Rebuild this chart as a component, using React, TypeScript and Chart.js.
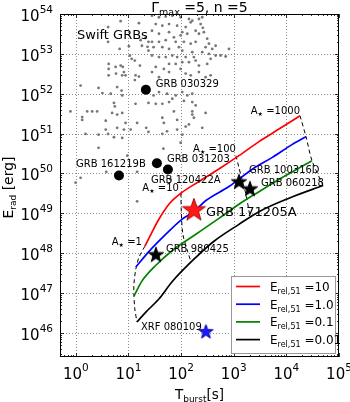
import React, { useEffect, useRef } from "react";
import { Chart, registerables } from "chart.js";

Chart.register(...registerables);

const FONT = "'DejaVu Sans', sans-serif";

// ---------------- data ----------------
// Swift GRB sample: burst duration T [s] and radiated energy E [erg]
const swiftT = [
  7.1, 15.8, 4.1, 4.1, 6.8, 10.2, 17, 21, 18, 23, 24, 24, 10.6, 11.5, 13.2, 16.5, 4.2, 4.2, 7.1, 7.8,
  5.7, 8.2, 7.6, 5.8, 8.8, 13.6, 15.8, 4.2, 13.2, 1.23, 2.7, 3.2, 4.6, 6.1, 7.4, 7.6, 5.3, 5.5, 13.6, 24,
  28, 38, 51, 68, 98, 141, 163, 218, 252,
  33, 44, 59, 84, 122, 152, 235, 259, 189, 105, 59, 38, 28,
  73, 98, 131, 218, 271, 313, 338, 453, 811, 390, 292, 189, 152, 113, 79, 51, 38, 28,
  30, 44, 59, 91, 105, 163, 252, 338, 453, 564, 702,
  28, 38, 51, 68, 84, 122, 175,
  59, 79, 105, 141, 189, 218, 313, 364,
  33, 47, 59, 98, 122, 152, 218, 292, 364,
  38, 28,
  30, 38, 54, 79, 105, 131, 163,
  44, 59, 68, 113, 163, 189, 33,
  0.79, 1.64, 2.04, 2.54, 1.32, 1.32, 4.9, 3.7, 6.1, 7.6, 8.8, 14.6, 6.1, 3.7, 4.1, 1.53, 2.7, 5.3, 7.6, 8.2,
  11, 21.7, 24, 44, 47, 73, 84, 163, 163, 122, 141, 105, 54, 84, 252, 44, 2.7, 9.5, 46, 98,
  3.8, 1.23, 0.99, 14.6, 63, 14.6, 292, 175,
];
const swiftE = [
  6.6e53, 5.9e53, 4.7e53, 2.0e53, 1.33e53, 1.56e53, 2.2e53, 2.5e53, 1.6e53, 1.5e53, 2.0e53, 1.2e53, 9.1e52, 7.5e52, 6.8e52, 5.1e52, 5.6e52, 4.2e52, 5.1e52, 4.7e52,
  4.7e52, 3.5e52, 2.9e52, 3.2e52, 2.9e52, 2.9e52, 2.7e52, 2.9e52, 2.2e52, 1.6e52, 1.4e52, 1.04e52, 1.0e52, 1.47e52, 1.2e52, 9.1e51, 5.9e51, 4.8e51, 5.6e51, 5.9e51,
  9.1e53, 8.3e53, 8.6e53, 9.1e53, 8.3e53, 7.5e53, 6.8e53, 7.5e53, 8.3e53,
  5.6e53, 5.1e53, 5.6e53, 5.1e53, 4.7e53, 6.2e53, 5.6e53, 4.5e53, 3.8e53, 3.5e53, 3.5e53, 3.2e53, 3.8e53,
  2.6e53, 2.9e53, 3.2e53, 3.2e53, 3.5e53, 2.4e53, 1.8e53, 1.6e53, 1.33e53, 1.33e53, 1.47e53, 2.0e53, 1.8e53, 2.0e53, 2.0e53, 2.2e53, 2.0e53, 2.0e53,
  1.47e53, 1.47e53, 1.33e53, 1.47e53, 1.2e53, 1.1e53, 1.1e53, 1.0e53, 9.1e52, 9.1e52, 8.6e52,
  9.1e52, 8.3e52, 8.3e52, 9.1e52, 8.3e52, 8.3e52, 8.3e52,
  5.6e52, 5.6e52, 6.2e52, 6.2e52, 6.8e52, 5.1e52, 5.6e52, 7.5e52,
  4.7e52, 4.2e52, 3.5e52, 4.2e52, 3.2e52, 2.9e52, 3.5e52, 2.6e52, 2.9e52,
  2.6e52, 3.5e52,
  9.1e51, 1.1e52, 1.0e52, 9.1e51, 1.1e52, 9.1e51, 1.0e52,
  5.6e51, 6.2e51, 7.5e51, 6.6e51, 6.2e51, 5.1e51, 5.6e51,
  3.6e51, 3.6e51, 3.6e51, 3.6e51, 2.6e51, 2.2e51, 3.3e51, 2.1e51, 3.0e51, 3.3e51, 1.85e51, 1.85e51, 1.4e51, 1.26e51, 9.8e50, 9.8e50, 9.4e50, 8.1e50, 7.8e50, 1.26e51,
  1.26e51, 1.4e51, 1.1e51, 2.5e51, 1.85e51, 3.6e51, 2.2e51, 3.6e51, 3.0e51, 1.5e51, 1.7e51, 9.4e50, 1.14e51, 1.26e51, 1.4e51, 9.8e50, 4.4e50, 2.8e50, 4.2e50, 5.9e50,
  1.1e50, 7.8e49, 5.9e49, 1.1e50, 7.1e49, 2.0e49, 3.3e51, 2.5e51,
];

// Named GRBs shown as filled circles
const circleNames = ["GRB 030329", "GRB 161219B", "GRB 031203", "GRB 120422A"];
const circleT = [21.4, 6.6, 34.7, 56.1];
const circleE = [1.26e52, 8.9e49, 1.8e50, 1.26e50];

// Named GRBs shown as stars
const starNames = ["GRB 171205A", "GRB 980425", "GRB 100316D", "GRB 060218", "XRF 080109"];
const starT = [175, 33.2, 1256, 2032, 296];
const starE = [1.26e49, 9.4e47, 6.3e49, 4.2e49, 1.1e46];

// Model curves, E_rel,51
const erelLabels = ["10", "1.0", "0.1", "0.01"];
const erel10T = [20.5, 27.9, 37.8, 58.6, 99, 218, 523, 1256, 3013, 7228, 18150];
const erel10E = [1.5e48, 3.35e48, 7.1e48, 1.7e49, 3.2e49, 6.3e49, 1.3e50, 2.8e50, 6.3e50, 1.3e51, 2.8e51];
const erel1T = [13.8, 24.4, 51.4, 103.5, 175, 296, 811, 2218, 5321, 12760, 23600];
const erel1E = [4.5e47, 1.1e48, 3.0e48, 7.1e48, 1.1e49, 2.1e49, 4.7e49, 1.26e50, 2.5e50, 5.3e50, 8.4e50];
const erel01T = [12.7, 18.0, 33.2, 73, 191, 523, 1256, 3013, 9000, 30700];
const erel01E = [8.4e46, 2.0e47, 5.0e47, 1.26e48, 3.0e48, 7.5e48, 1.7e49, 3.5e49, 8.4e49, 2.1e50];
const erel001T = [14.5, 21.4, 37.8, 66.8, 191, 421, 1256, 3013, 11200, 49700];
const erel001E = [1.9e46, 3.35e46, 7.1e46, 1.9e47, 7.9e47, 2.0e48, 5.3e48, 1.1e49, 2.4e49, 5.0e49];

// Constant A_* (dashed)
const astarLabels = ["1", "10", "100", "1000"];
const astar1T = [20.5, 15.8, 13.8, 12.7, 12.7, 13.2, 14.5];
const astar1E = [1.5e48, 7.9e47, 4.0e47, 1.7e47, 8.4e46, 4.0e46, 1.9e46];
const astar10T = [99, 101, 108, 129, 153];
const astar10E = [3.2e49, 1.0e49, 3.0e48, 1.26e48, 6.3e47];
const astar100T = [1101, 1256, 1432, 1706, 2032];
const astar100E = [2.8e50, 1.4e50, 7.1e49, 3.0e49, 8.4e48];
const astar1000T = [18150, 23600, 30700, 49700];
const astar1000E = [2.8e51, 8.4e50, 2.1e50, 5.0e49];

const xTicks = [1, 10, 100, 1e3, 1e4, 1e5];
const yTicks = [1e46, 1e47, 1e48, 1e49, 1e50, 1e51, 1e52, 1e53, 1e54];
const xRange = [0.5, 1e5];
const yRange = [2.5e45, 1e54];

// ---------------- helpers ----------------
type Part = { t: string; s: number; dy?: number };

function partsWidth(ctx: CanvasRenderingContext2D, parts: Part[]) {
  let w = 0;
  for (const p of parts) {
    ctx.font = `${p.s}px ${FONT}`;
    w += ctx.measureText(p.t).width;
  }
  return w;
}

function drawParts(
  ctx: CanvasRenderingContext2D,
  parts: Part[],
  x: number,
  y: number,
  align: "left" | "center" | "right",
  color = "#000"
) {
  ctx.save();
  ctx.fillStyle = color;
  ctx.textBaseline = "alphabetic";
  ctx.textAlign = "left";
  const w = partsWidth(ctx, parts);
  let cx = align === "left" ? x : align === "center" ? x - w / 2 : x - w;
  for (const p of parts) {
    ctx.font = `${p.s}px ${FONT}`;
    ctx.fillText(p.t, cx, y + (p.dy || 0));
    cx += ctx.measureText(p.t).width;
  }
  ctx.restore();
}

function pts(T: number[], E: number[]) {
  return T.map((t, i) => ({ x: t, y: E[i] }));
}

function makeStar(size: number, fill: string, stroke: string) {
  const c = document.createElement("canvas");
  c.width = size;
  c.height = size;
  const g = c.getContext("2d")!;
  const cx = size / 2;
  const cy = size / 2 + size * 0.04;
  const R = size / 2 - 1;
  const r = R * 0.4;
  g.beginPath();
  for (let i = 0; i < 10; i++) {
    const a = -Math.PI / 2 + (i * Math.PI) / 5;
    const rr = i % 2 === 0 ? R : r;
    g.lineTo(cx + rr * Math.cos(a), cy + rr * Math.sin(a));
  }
  g.closePath();
  g.fillStyle = fill;
  g.fill();
  g.strokeStyle = stroke;
  g.lineWidth = 1;
  g.stroke();
  return c;
}

const curveColors = ["#ff0000", "#0000ff", "#008000", "#000000"];

const circleLabelPos = [
  { dx: 10, dy: -6 },
  { dx: -43, dy: -12 },
  { dx: 10, dy: -5 },
  { dx: -17, dy: 10 },
];
const starLabelPos = [
  { dx: 12, dy: 2, s: 13 },
  { dx: 10, dy: -6, s: 10 },
  { dx: 10, dy: -12, s: 10 },
  { dx: 11, dy: -6, s: 10 },
  { dx: -65, dy: -5, s: 10 },
];
const astarLabelPos = [
  { dx: -3, dy: -5 },
  { dx: -2, dy: -6 },
  { dx: 0, dy: -7 },
  { dx: 0, dy: -5 },
];

export default function App() {
  const ref = useRef<HTMLCanvasElement | null>(null);

  useEffect(() => {
    if (!ref.current) return;
    const redStar = makeStar(26, "#ff1a1a", "#b00000");
    const blackStar = makeStar(18, "#000000", "#000000");
    const blueStar = makeStar(17, "#1a1aff", "#0000aa");
    const starStyles = [redStar, blackStar, blackStar, blackStar, blueStar];

    const curveSets = [
      pts(erel10T, erel10E),
      pts(erel1T, erel1E),
      pts(erel01T, erel01E),
      pts(erel001T, erel001E),
    ];
    const astarSets = [
      pts(astar1T, astar1E),
      pts(astar10T, astar10E),
      pts(astar100T, astar100E),
      pts(astar1000T, astar1000E),
    ];

    const datasets: any[] = [];
    datasets.push({
      label: "stars",
      data: pts(starT, starE),
      pointStyle: starStyles,
      pointRadius: 10,
      showLine: false,
      order: 0,
    });
    datasets.push({
      label: "circles",
      data: pts(circleT, circleE),
      pointStyle: "circle",
      pointRadius: 5,
      backgroundColor: "#000",
      borderWidth: 0,
      showLine: false,
      order: 1,
    });
    curveSets.forEach((d, i) => {
      datasets.push({
        label: erelLabels[i],
        data: d,
        showLine: true,
        borderColor: curveColors[i],
        borderWidth: 1.7,
        pointRadius: 0,
        cubicInterpolationMode: "monotone",
        fill: false,
        order: 2,
      });
    });
    astarSets.forEach((d, i) => {
      datasets.push({
        label: "A" + astarLabels[i],
        data: d,
        showLine: true,
        borderColor: "#000",
        borderWidth: 1,
        borderDash: [4, 3],
        pointRadius: 0,
        tension: 0.3,
        fill: false,
        order: 3,
      });
    });
    datasets.push({
      label: "Swift",
      data: pts(swiftT, swiftE),
      pointStyle: "circle",
      pointRadius: 1.4,
      backgroundColor: "#777777",
      borderWidth: 0,
      showLine: false,
      order: 4,
    });

    const overlay = {
      id: "overlay",
      beforeDatasetsDraw(chart: any) {
        const { ctx, chartArea: a, scales } = chart;
        const xs = scales.x, ys = scales.y;
        ctx.save();
        ctx.strokeStyle = "rgba(0,0,0,0.45)";
        ctx.lineWidth = 1;
        ctx.setLineDash([1, 2]);
        for (const v of xTicks) {
          const px = Math.round(xs.getPixelForValue(v)) + 0.5;
          if (px <= a.left + 1 || px >= a.right - 1) continue;
          ctx.beginPath();
          ctx.moveTo(px, a.top);
          ctx.lineTo(px, a.bottom);
          ctx.stroke();
        }
        for (const v of yTicks) {
          const py = Math.round(ys.getPixelForValue(v)) + 0.5;
          if (py <= a.top + 1 || py >= a.bottom - 1) continue;
          ctx.beginPath();
          ctx.moveTo(a.left, py);
          ctx.lineTo(a.right, py);
          ctx.stroke();
        }
        ctx.restore();
      },
      afterDatasetsDraw(chart: any) {
        const { ctx, chartArea: a, scales } = chart;
        const xs = scales.x, ys = scales.y;
        ctx.save();
        // frame
        ctx.strokeStyle = "#000";
        ctx.lineWidth = 1;
        ctx.setLineDash([]);
        ctx.strokeRect(a.left + 0.5, a.top + 0.5, a.right - a.left - 1, a.bottom - a.top - 1);
        // ticks (inward, all sides)
        const tick = (v: number, scale: any, horiz: boolean, len: number) => {
          const p = Math.round(scale.getPixelForValue(v)) + 0.5;
          ctx.beginPath();
          if (horiz) {
            ctx.moveTo(p, a.bottom);
            ctx.lineTo(p, a.bottom - len);
            ctx.moveTo(p, a.top);
            ctx.lineTo(p, a.top + len);
          } else {
            ctx.moveTo(a.left, p);
            ctx.lineTo(a.left + len, p);
            ctx.moveTo(a.right, p);
            ctx.lineTo(a.right - len, p);
          }
          ctx.stroke();
        };
        ctx.lineWidth = 0.8;
        const minors = (lo: number, hi: number) => {
          const out: number[] = [];
          for (let d = Math.floor(Math.log10(lo)); d <= Math.ceil(Math.log10(hi)); d++) {
            for (let m = 2; m <= 9; m++) {
              const v = m * Math.pow(10, d);
              if (v > lo && v < hi) out.push(v);
            }
          }
          return out;
        };
        for (const v of xTicks) tick(v, xs, true, 4);
        for (const v of yTicks) tick(v, ys, false, 4);
        for (const v of minors(xRange[0], xRange[1])) tick(v, xs, true, 2);
        for (const v of minors(yRange[0], yRange[1])) tick(v, ys, false, 2);

        // tick labels
        for (const v of xTicks) {
          const px = xs.getPixelForValue(v);
          const e = String(Math.round(Math.log10(v)));
          drawParts(ctx, [{ t: "10", s: 15 }, { t: e, s: 10.5, dy: -8 }], px, a.bottom + 22, "center");
        }
        for (const v of yTicks) {
          const py = ys.getPixelForValue(v);
          const e = String(Math.round(Math.log10(v)));
          drawParts(ctx, [{ t: "10", s: 15 }, { t: e, s: 10.5, dy: -8 }], a.left - 7, py + 7, "right");
        }

        // axis titles
        drawParts(
          ctx,
          [{ t: "T", s: 13.5 }, { t: "burst", s: 9, dy: 3 }, { t: "[s]", s: 13.5 }],
          (a.left + a.right) / 2,
          399,
          "center"
        );
        ctx.save();
        ctx.translate(13, (a.top + a.bottom) / 2 + 2);
        ctx.rotate(-Math.PI / 2);
        drawParts(ctx, [{ t: "E", s: 14 }, { t: "rad", s: 9, dy: 3 }, { t: " [erg]", s: 14 }], 0, 0, "center");
        ctx.restore();

        // title
        drawParts(
          ctx,
          [{ t: "Γ", s: 14 }, { t: "max", s: 9.5, dy: 3 }, { t: " =5, n =5", s: 14 }],
          (a.left + a.right) / 2,
          12,
          "center"
        );

        // Swift GRBs
        drawParts(ctx, [{ t: "Swift GRBs", s: 13 }], a.left + 17, a.top + 25, "left");

        // circle labels
        circleNames.forEach((n, i) => {
          const px = xs.getPixelForValue(circleT[i]);
          const py = ys.getPixelForValue(circleE[i]);
          const o = circleLabelPos[i];
          drawParts(ctx, [{ t: n, s: 10 }], px + o.dx, py + o.dy + 3.6, "left");
        });
        // star labels
        starNames.forEach((n, i) => {
          const px = xs.getPixelForValue(starT[i]);
          const py = ys.getPixelForValue(starE[i]);
          const o = starLabelPos[i];
          drawParts(ctx, [{ t: n, s: o.s }], px + o.dx, py + o.dy + o.s * 0.36, "left");
        });
        // A_* labels
        astarSets.forEach((d, i) => {
          const px = xs.getPixelForValue(d[0].x);
          const py = ys.getPixelForValue(d[0].y);
          const o = astarLabelPos[i];
          drawParts(
            ctx,
            [{ t: "A", s: 10 }, { t: "★", s: 6, dy: 2 }, { t: " =" + astarLabels[i], s: 10 }],
            px + o.dx,
            py + o.dy + 3.6,
            "right"
          );
        });

        // legend
        const bw = 104, bh = 77;
        const bx = a.right - 4 - bw, by = a.bottom - 4 - bh;
        ctx.fillStyle = "#fff";
        ctx.fillRect(bx, by, bw, bh);
        ctx.strokeStyle = "#999";
        ctx.lineWidth = 1;
        ctx.strokeRect(bx + 0.5, by + 0.5, bw, bh);
        erelLabels.forEach((lab, i) => {
          const ly = by + 10.5 + i * 17.7;
          ctx.strokeStyle = curveColors[i];
          ctx.lineWidth = 1.7;
          ctx.beginPath();
          ctx.moveTo(bx + 5, ly);
          ctx.lineTo(bx + 29, ly);
          ctx.stroke();
          drawParts(
            ctx,
            [{ t: "E", s: 12 }, { t: "rel,51", s: 8, dy: 3 }, { t: " =" + lab, s: 12 }],
            bx + 39,
            ly + 4.3,
            "left"
          );
        });
        ctx.restore();
      },
    };

    const chart = new Chart(ref.current, {
      type: "scatter",
      data: { datasets },
      options: {
        responsive: false,
        animation: false,
        devicePixelRatio: 1,
        events: [],
        layout: { padding: { top: 14, right: 10, left: 0, bottom: 0 } },
        plugins: {
          legend: { display: false },
          title: { display: false },
          tooltip: { enabled: false },
        },
        scales: {
          x: {
            type: "logarithmic",
            min: xRange[0],
            max: xRange[1],
            ticks: { display: false },
            grid: { display: false },
            border: { display: false },
            afterFit: (s: any) => {
              s.height = 45;
            },
          },
          y: {
            type: "logarithmic",
            min: yRange[0],
            max: yRange[1],
            ticks: { display: false },
            grid: { display: false },
            border: { display: false },
            afterFit: (s: any) => {
              s.width = 60;
            },
          },
        },
      } as any,
      plugins: [overlay],
    });
    return () => chart.destroy();
  }, []);

  return (
    <div style={{ position: "absolute", left: 0, top: 0, width: 350, height: 402, background: "#fff" }}>
      <canvas ref={ref} width={350} height={402} style={{ display: "block" }} />
    </div>
  );
}
